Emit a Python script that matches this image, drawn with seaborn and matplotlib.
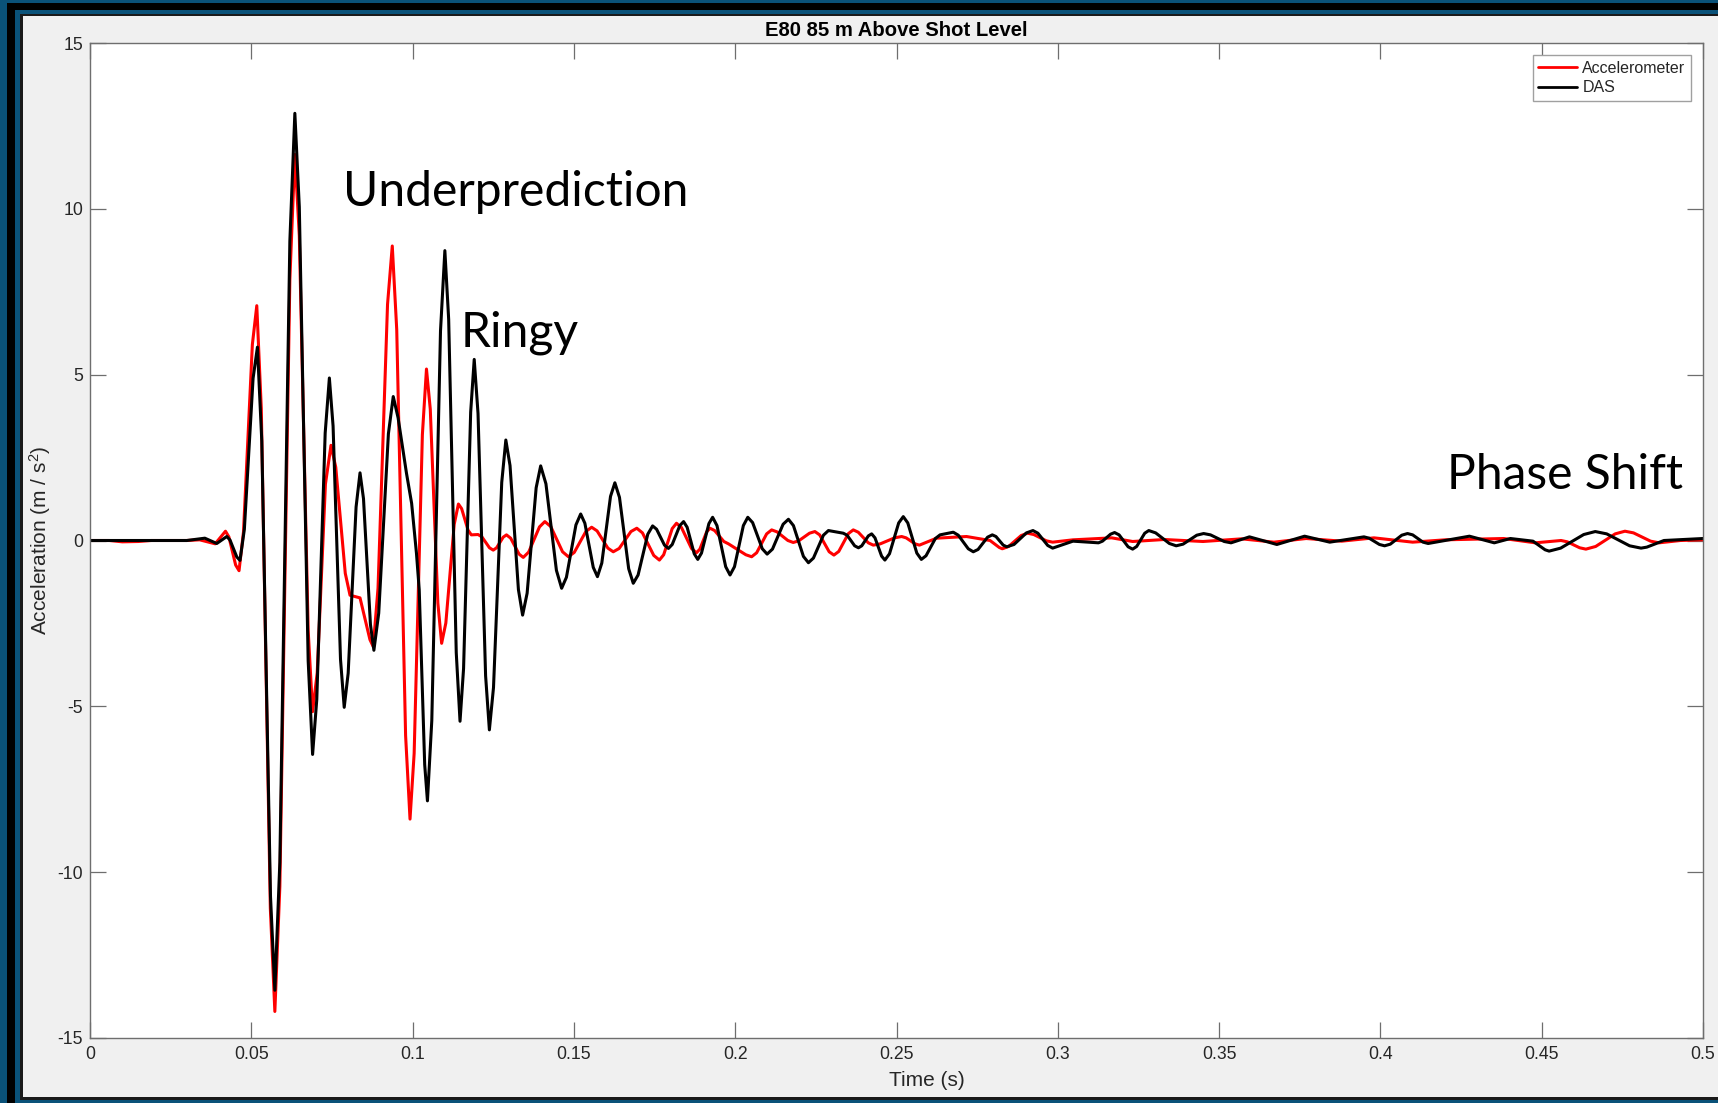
import matplotlib
matplotlib.use("Agg")
import matplotlib.pyplot as plt
from matplotlib.patches import Rectangle
import pandas as pd
import seaborn as sns

# ---- data -----------------------------------------------------------------
series_names = ["Accelerometer", "DAS"]
series_colors = ["#ff0000", "#000000"]

# (time s, acceleration m/s^2) samples along each trace
accel_points = [
    (0.000, 0.00), (0.006, 0.00), (0.010, -0.04), (0.015, -0.03), (0.019, 0.00),
    (0.030, 0.00), (0.034, 0.02), (0.0388, -0.10), (0.0420, 0.28), (0.04305, 0.11),
    (0.04515, -0.74), (0.0462, -0.91), (0.04758, 0.26), (0.05033, 5.91), (0.0517, 7.08),
    (0.0531, 3.97), (0.0559, -11.09), (0.0573, -14.20), (0.05885, -10.43), (0.06195, 7.87),
    (0.0635, 11.64), (0.06488, 9.19), (0.06763, -2.71), (0.0690, -5.16), (0.07043, -3.99),
    (0.07298, 1.70), (0.0747, 2.87), (0.07618, 2.21), (0.07913, -0.99), (0.0806, -1.65),
    (0.0837, -1.73), (0.08678, -2.99), (0.0878, -3.20), (0.08928, -1.44), (0.09223, 7.12),
    (0.0937, 8.88), (0.09508, 6.36), (0.09783, -5.88), (0.0992, -8.40), (0.10048, -6.42),
    (0.10303, 3.19), (0.1043, 5.17), (0.10548, 3.96), (0.10783, -1.89), (0.1090, -3.10),
    (0.1103, -2.49), (0.1129, 0.49), (0.1142, 1.10), (0.1152, 0.96), (0.1172, 0.31),
    (0.1182, 0.17), (0.1203, 0.18), (0.12148, 0.11), (0.12383, -0.22), (0.1250, -0.29),
    (0.12603, -0.22), (0.12808, 0.10), (0.1291, 0.17), (0.1304, 0.07), (0.1330, -0.41),
    (0.1343, -0.51), (0.13598, -0.35), (0.13933, 0.41), (0.1410, 0.57), (0.14283, 0.42),
    (0.14648, -0.34), (0.1483, -0.49), (0.1501, -0.36), (0.1537, 0.27), (0.1555, 0.40),
    (0.15718, 0.29), (0.16053, -0.23), (0.1622, -0.34), (0.16403, -0.24), (0.16768, 0.27),
    (0.1695, 0.37), (0.17125, 0.23), (0.17475, -0.45), (0.1765, -0.59), (0.17783, -0.43),
    (0.18048, 0.36), (0.1818, 0.52), (0.18335, 0.39), (0.18645, -0.24), (0.1880, -0.37),
    (0.18905, -0.26), (0.19115, 0.26), (0.1922, 0.37), (0.19363, 0.30), (0.19648, -0.03),
    (0.1979, -0.10), (0.2033, -0.43), (0.2051, -0.49), (0.20665, -0.37), (0.20975, 0.20),
    (0.2113, 0.32), (0.21298, 0.26), (0.21633, 0.00), (0.2180, -0.06), (0.21968, -0.01),
    (0.22303, 0.22), (0.2247, 0.27), (0.22618, 0.17), (0.22913, -0.34), (0.2306, -0.44),
    (0.2321, -0.33), (0.2351, 0.21), (0.2366, 0.32), (0.23815, 0.25), (0.24125, -0.07),
    (0.2428, -0.14), (0.2450, -0.10), (0.2494, 0.08), (0.2516, 0.12), (0.25298, 0.08),
    (0.25573, -0.10), (0.2571, -0.14), (0.2624, 0.07), (0.2717, 0.12), (0.2790, 0.00),
    (0.28185, -0.21), (0.2828, -0.25), (0.28475, -0.18), (0.28865, 0.15), (0.2906, 0.22),
    (0.29255, 0.18), (0.29645, -0.01), (0.2984, -0.05), (0.3047, 0.02), (0.3167, 0.08),
    (0.3232, -0.03), (0.3330, 0.03), (0.3450, -0.03), (0.3570, 0.05), (0.3670, -0.05),
    (0.3770, 0.06), (0.3880, -0.02), (0.3980, 0.08), (0.4100, -0.05), (0.4200, 0.02),
    (0.4382, 0.06), (0.4480, -0.07), (0.4560, 0.00), (0.45793, -0.04), (0.46178, -0.22),
    (0.4637, -0.26), (0.46673, -0.18), (0.47278, 0.20), (0.4758, 0.28), (0.47845, 0.23),
    (0.48375, -0.02), (0.4864, -0.07), (0.4930, 0.00), (0.5000, 0.02),
]

das_points = [
    (0.000, 0.00), (0.030, 0.00), (0.0356, 0.07), (0.0393, -0.09), (0.0424, 0.12),
    (0.0434, 0.015), (0.0455, -0.495), (0.0465, -0.60), (0.04785, 0.34), (0.05055, 4.89),
    (0.0519, 5.83), (0.05325, 3.00), (0.05595, -10.73), (0.0573, -13.56), (0.05885, -9.70),
    (0.06195, 9.02), (0.0635, 12.88), (0.06488, 10.06), (0.06763, -3.63), (0.0690, -6.45),
    (0.0703, -4.79), (0.0729, 3.24), (0.0742, 4.90), (0.07535, 3.45), (0.07765, -3.58),
    (0.0788, -5.03), (0.08003, -4.00), (0.08248, 1.01), (0.0837, 2.04), (0.08478, 1.26),
    (0.08693, -2.53), (0.0880, -3.31), (0.0895, -2.19), (0.0925, 3.22), (0.0940, 4.34),
    (0.0955, 3.70), (0.0981, 2.03), (0.0997, 1.12), (0.1012, -0.39), (0.10205, -1.48),
    (0.10375, -6.76), (0.1046, -7.85), (0.10595, -5.43), (0.10865, 6.32), (0.1100, 8.74),
    (0.11118, 6.67), (0.11353, -3.38), (0.1147, -5.45), (0.1158, -3.86), (0.1180, 3.87),
    (0.1191, 5.46), (0.12028, 3.83), (0.12263, -4.08), (0.1238, -5.71), (0.12508, -4.43),
    (0.12763, 1.75), (0.1289, 3.03), (0.1302, 2.26), (0.1328, -1.48), (0.1341, -2.25),
    (0.1355, -1.59), (0.1383, 1.59), (0.1397, 2.25), (0.14133, 1.71), (0.14458, -0.90),
    (0.1462, -1.44), (0.14768, -1.11), (0.15063, 0.47), (0.1521, 0.80), (0.1534, 0.52),
    (0.1560, -0.81), (0.1573, -1.09), (0.15865, -0.68), (0.16135, 1.33), (0.1627, 1.74),
    (0.16413, 1.30), (0.16698, -0.85), (0.1684, -1.29), (0.1699, -1.04), (0.1729, 0.19),
    (0.1744, 0.44), (0.17563, 0.34), (0.17808, -0.14), (0.1793, -0.24), (0.18048, -0.12),
    (0.18283, 0.45), (0.1840, 0.57), (0.1851, 0.40), (0.1873, -0.40), (0.1884, -0.57),
    (0.18955, -0.38), (0.19185, 0.51), (0.1930, 0.70), (0.19435, 0.45), (0.19705, -0.79),
    (0.1984, -1.04), (0.19978, -0.79), (0.20253, 0.45), (0.2039, 0.70), (0.2054, 0.54),
    (0.2084, -0.25), (0.2099, -0.41), (0.21155, -0.26), (0.21485, 0.49), (0.2165, 0.64),
    (0.21805, 0.45), (0.22115, -0.48), (0.2227, -0.67), (0.22425, -0.53), (0.22735, 0.16),
    (0.2289, 0.30), (0.2335, 0.22), (0.23468, 0.16), (0.23703, -0.16), (0.2382, -0.22),
    (0.23923, -0.16), (0.24128, 0.14), (0.2423, 0.20), (0.24333, 0.08), (0.24538, -0.47),
    (0.2464, -0.59), (0.24783, -0.40), (0.25068, 0.53), (0.2521, 0.72), (0.2535, 0.53),
    (0.2563, -0.38), (0.2577, -0.57), (0.25915, -0.46), (0.26205, 0.06), (0.2635, 0.17),
    (0.2676, 0.25), (0.26915, 0.16), (0.27225, -0.25), (0.2738, -0.34), (0.27528, -0.27),
    (0.27823, 0.10), (0.2797, 0.17), (0.28083, 0.12), (0.28308, -0.14), (0.2842, -0.19),
    (0.28643, -0.12), (0.29028, 0.23), (0.2923, 0.30), (0.29383, 0.22), (0.29688, -0.15),
    (0.2984, -0.23), (0.3047, -0.02), (0.3126, -0.07), (0.31385, -0.02), (0.31635, 0.19),
    (0.3176, 0.24), (0.3190, 0.17), (0.3218, -0.19), (0.3232, -0.26), (0.32445, -0.18),
    (0.32695, 0.22), (0.3282, 0.30), (0.33033, 0.23), (0.33458, -0.09), (0.3367, -0.16),
    (0.33883, -0.11), (0.34308, 0.16), (0.3452, 0.21), (0.34733, 0.17), (0.35158, -0.03),
    (0.3537, -0.07), (0.3594, 0.11), (0.3679, -0.12), (0.3765, 0.13), (0.3843, -0.05),
    (0.3949, 0.11), (0.3965, 0.07), (0.3997, -0.12), (0.4013, -0.16), (0.40308, -0.11),
    (0.40663, 0.16), (0.4084, 0.21), (0.4100, 0.17), (0.4132, -0.05), (0.4148, -0.09),
    (0.4276, 0.13), (0.4353, -0.07), (0.4403, 0.06), (0.4473, -0.02), (0.45105, -0.28),
    (0.4523, -0.32), (0.45588, -0.23), (0.46303, 0.18), (0.4666, 0.27), (0.47015, 0.20),
    (0.47725, -0.16), (0.4808, -0.23), (0.48258, -0.20), (0.4879, 0.00), (0.5000, 0.06),
]

accel_t = [p[0] for p in accel_points]
accel_a = [p[1] for p in accel_points]
das_t = [p[0] for p in das_points]
das_a = [p[1] for p in das_points]

x_ticks = [0, 0.05, 0.1, 0.15, 0.2, 0.25, 0.3, 0.35, 0.4, 0.45, 0.5]
x_tick_labels = ["0", "0.05", "0.1", "0.15", "0.2", "0.25", "0.3", "0.35",
                 "0.4", "0.45", "0.5"]
y_ticks = [-15, -10, -5, 0, 5, 10, 15]
y_tick_labels = ["-15", "-10", "-5", "0", "5", "10", "15"]

notes = ["Underprediction", "Ringy", "Phase Shift"]
note_t = [0.0785, 0.1148, 0.4205]
note_a = [10.09, 5.86, 1.55]

title = "E80 85 m Above Shot Level"
x_label = "Time (s)"
y_label = "Acceleration (m / s$^{2}$)"

# ---- style ----------------------------------------------------------------
sns.set_theme(style="white")
plt.rcParams["font.family"] = ["Liberation Sans", "DejaVu Sans"]
plt.rcParams["mathtext.default"] = "regular"

W, H = 1718, 1103
BLUE = "#0a5279"
PANEL = "#f0f0f0"
AXIS = "#6e6e6e"
TEXT = "#262626"

fig = plt.figure(figsize=(W / 100, H / 100), dpi=100, facecolor=BLUE)


def band(x0, y0, x1, y1, color):
    """Filled rectangle given in pixel coordinates measured from the top-left."""
    fig.add_artist(Rectangle((x0 / W, 1 - y1 / H), (x1 - x0) / W, (y1 - y0) / H,
                             transform=fig.transFigure, facecolor=color,
                             edgecolor="none", zorder=-10))


# window frame around the grey figure panel
band(7, 3, W, H, "#000000")
band(15, 10, W, H, BLUE)
band(20, 14, W, 1099.5, "#1a1a1a")
band(23, 16, W, 1097, PANEL)

ax = fig.add_axes([90 / W, 1 - 1038 / H, 1613 / W, 995 / H])
ax.set_facecolor("white")

df = pd.DataFrame({
    "Time": accel_t + das_t,
    "Acceleration": accel_a + das_a,
    "Sensor": [series_names[0]] * len(accel_t) + [series_names[1]] * len(das_t),
})
sns.lineplot(data=df, x="Time", y="Acceleration", hue="Sensor",
             hue_order=series_names,
             palette=dict(zip(series_names, series_colors)),
             estimator=None, sort=False, linewidth=2.2, legend=False, ax=ax)

ax.set_xlim(0, 0.5)
ax.set_ylim(-15, 15)
ax.set_xticks(x_ticks)
ax.set_xticklabels(x_tick_labels)
ax.set_yticks(y_ticks)
ax.set_yticklabels(y_tick_labels)

for s in ax.spines.values():
    s.set_visible(True)
    s.set_color(AXIS)
    s.set_linewidth(1.0)
ax.tick_params(axis="both", which="major", direction="in", length=11.5,
               width=0.9, color=AXIS, labelcolor=TEXT, labelsize=12.7,
               top=True, right=True, bottom=True, left=True)
ax.tick_params(axis="x", pad=6)
ax.tick_params(axis="y", pad=5)
ax.grid(False)

ax.set_xlabel(x_label, fontsize=15, color=TEXT)
ax.xaxis.set_label_coords(0.519, -0.033)
ax.set_ylabel(y_label, fontsize=15, color=TEXT)
ax.yaxis.set_label_coords(-0.023, 0.5)
ax.set_title(title, fontsize=14.6, fontweight="bold", color="#000000", pad=5)

leg = ax.legend(ax.lines[:2], series_names, loc="upper right",
                fontsize=11.5, frameon=True, fancybox=False, framealpha=1,
                edgecolor="#a0a0a0", borderaxespad=0.75, handlelength=2.4,
                handletextpad=0.35, labelspacing=0.3, borderpad=0.35)
leg.get_frame().set_linewidth(1.0)
for line in leg.get_lines():
    line.set_linewidth(2.0)

for s, t, a in zip(notes, note_t, note_a):
    ax.text(t, a, s, fontsize=34.6, family=["Lato", "DejaVu Sans"],
            color="#000000", ha="left", va="baseline")

fig.savefig("out.png", dpi=100, facecolor=BLUE)
